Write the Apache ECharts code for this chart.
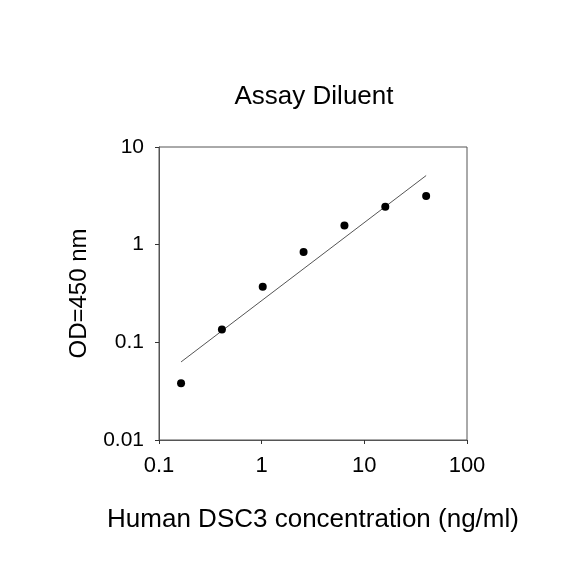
<!DOCTYPE html>
<html>
<head>
<meta charset="utf-8">
<script src="https://cdn.jsdelivr.net/npm/echarts@6/dist/echarts.min.js"></script>
<style>
  html, body { margin: 0; padding: 0; background: #fff; }
  #chart { width: 584px; height: 584px; }
</style>
</head>
<body>
<div id="chart"></div>
<script>
// standard concentrations (ng/ml) and measured OD
var conc = [0.164, 0.41, 1.024, 2.56, 6.4, 16, 40];
var od = [0.038, 0.135, 0.37, 0.84, 1.57, 2.45, 3.15];
// fitted line
var fitX = [0.164, 40];
var fitY = [0.063, 5.1];
var xTicks = [0.1, 1, 10, 100];
var yTicks = [0.01, 0.1, 1, 10];

var font = 'Liberation Sans, Arial, sans-serif';

var myChart = echarts.init(document.getElementById('chart'));

var points = conc.map(function (c, i) { return [c, od[i]]; });
var fit = fitX.map(function (x, i) { return [x, fitY[i]]; });

myChart.setOption({
  backgroundColor: '#fff',
  animation: false,
  title: {
    text: 'Assay Diluent',
    left: 309,
    top: 79,
    textAlign: 'center',
    textStyle: { fontFamily: font, fontSize: 26, fontWeight: 'normal', color: '#000' }
  },
  grid: {
    left: 159, right: 117, top: 147, bottom: 144,
    show: true, borderColor: '#555', borderWidth: 1
  },
  xAxis: {
    type: 'log', logBase: 10, min: xTicks[0], max: xTicks[xTicks.length - 1],
    name: 'Human DSC3 concentration (ng/ml)',
    nameLocation: 'middle', nameGap: 67,
    nameTextStyle: { fontFamily: font, fontSize: 26, color: '#000' },
    axisLine: { lineStyle: { color: '#555', width: 1 } },
    axisTick: { inside: false, length: 4, lineStyle: { color: '#333' } },
    axisLabel: {
      fontFamily: font, fontSize: 22, color: '#000', margin: 15,
      formatter: function (v) { return String(+v.toPrecision(3)); }
    },
    splitLine: { show: false },
    minorTick: { show: false }
  },
  yAxis: {
    type: 'log', logBase: 10, min: yTicks[0], max: yTicks[yTicks.length - 1],
    name: 'OD=450 nm',
    nameLocation: 'middle', nameGap: 68, nameRotate: 90,
    nameTextStyle: { fontFamily: font, fontSize: 24, color: '#000' },
    axisLine: { lineStyle: { color: '#555', width: 1 } },
    axisTick: { inside: false, length: 4, lineStyle: { color: '#333' } },
    axisLabel: {
      fontFamily: font, fontSize: 21, color: '#000', margin: 15,
      formatter: function (v) { return String(+v.toPrecision(3)); }
    },
    splitLine: { show: false }
  },
  series: [
    {
      name: 'fit',
      type: 'line',
      data: fit,
      symbol: 'none',
      lineStyle: { color: '#555', width: 1 },
      z: 2
    },
    {
      name: 'OD',
      type: 'scatter',
      data: points,
      symbol: 'circle',
      symbolSize: 8,
      itemStyle: { color: '#000', opacity: 1 },
      z: 3
    }
  ]
});
</script>
</body>
</html>
